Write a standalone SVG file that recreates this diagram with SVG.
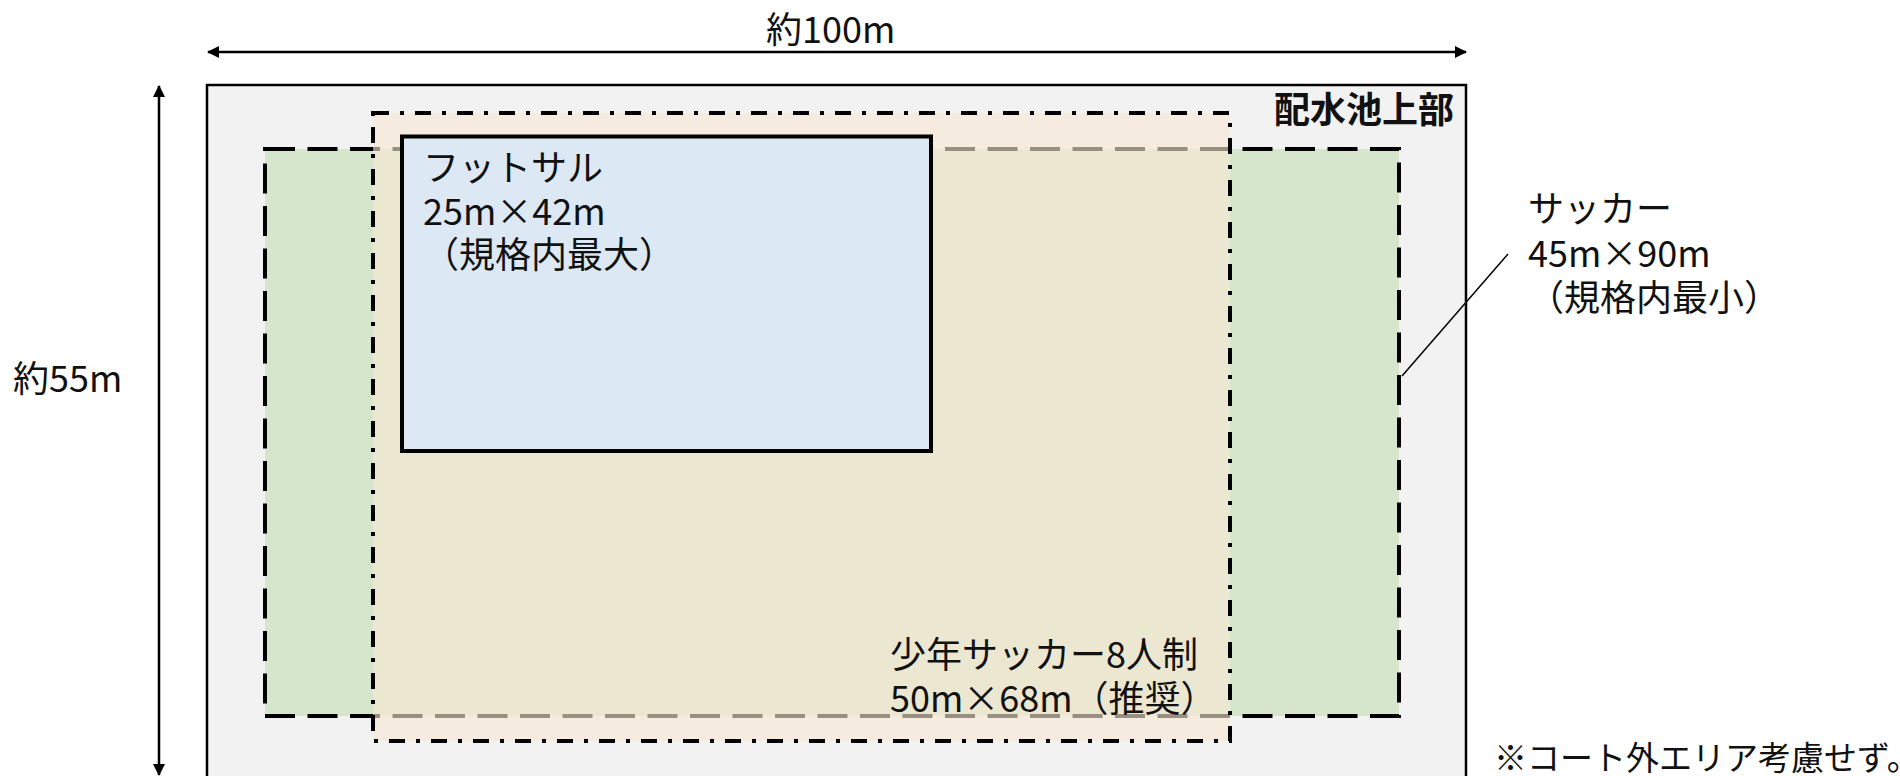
<svg xmlns="http://www.w3.org/2000/svg" width="1900" height="776" viewBox="0 0 1900 776">
<defs>
<marker id="ah" viewBox="0 0 12 12" refX="11" refY="6" markerWidth="12" markerHeight="12" markerUnits="userSpaceOnUse" orient="auto-start-reverse">
<path d="M0,0 L12,6 L0,12 Z" fill="#000"/>
</marker>
<style>
text{font-family:"Noto Sans CJK JP","Noto Sans",sans-serif;font-size:36px;fill:#111}
.b{font-weight:bold}
.note{font-size:33px}
.dim{stroke:#000;stroke-width:2.5;fill:none}
.lead{stroke:#000;stroke-width:1.5;fill:none}
</style>
</defs>
<rect width="1900" height="776" fill="#fff"/>
<g id="area">
<rect x="207" y="85" width="1259" height="720" fill="#f2f2f2" stroke="#000" stroke-width="2.5"/>
<text class="b" x="1274" y="123">配水池上部</text>
</g>
<g id="soccer">
<rect x="265" y="149" width="1134" height="567" fill="#d6e6cc" stroke="#000" stroke-width="4" stroke-dasharray="30 12.5"/>
<text x="1528" y="222">サッカー</text>
<text x="1528" y="267">45m×90m</text>
<text x="1528" y="311">（規格内最小）</text>
</g>
<g id="junior">
<rect x="373" y="113" width="857" height="628" fill="#f9e6d4" fill-opacity="0.62" stroke="#000" stroke-width="4" stroke-dasharray="16 11 4 11"/>
<text x="890" y="668">少年サッカー8人制</text>
<text x="890" y="712">50m×68m（推奨）</text>
</g>
<g id="futsal">
<rect x="402" y="136.5" width="529" height="314.5" fill="#dde8f5" stroke="#000" stroke-width="4"/>
<text x="423" y="181">フットサル</text>
<text x="423" y="225">25m×42m</text>
<text x="423" y="268">（規格内最大）</text>
</g>
<g id="labels">
<text x="766" y="43">約100m</text>
<text x="13" y="392">約55m</text>
<text class="note" x="1494" y="770">※コート外エリア考慮せず。</text>
</g>
<g id="connectors">
<line class="dim" x1="208" y1="52" x2="1466" y2="52" marker-start="url(#ah)" marker-end="url(#ah)"/>
<line class="dim" x1="159" y1="86" x2="159" y2="775" marker-start="url(#ah)" marker-end="url(#ah)"/>
<line class="lead" x1="1402" y1="376" x2="1508" y2="254"/>
</g>
</svg>
